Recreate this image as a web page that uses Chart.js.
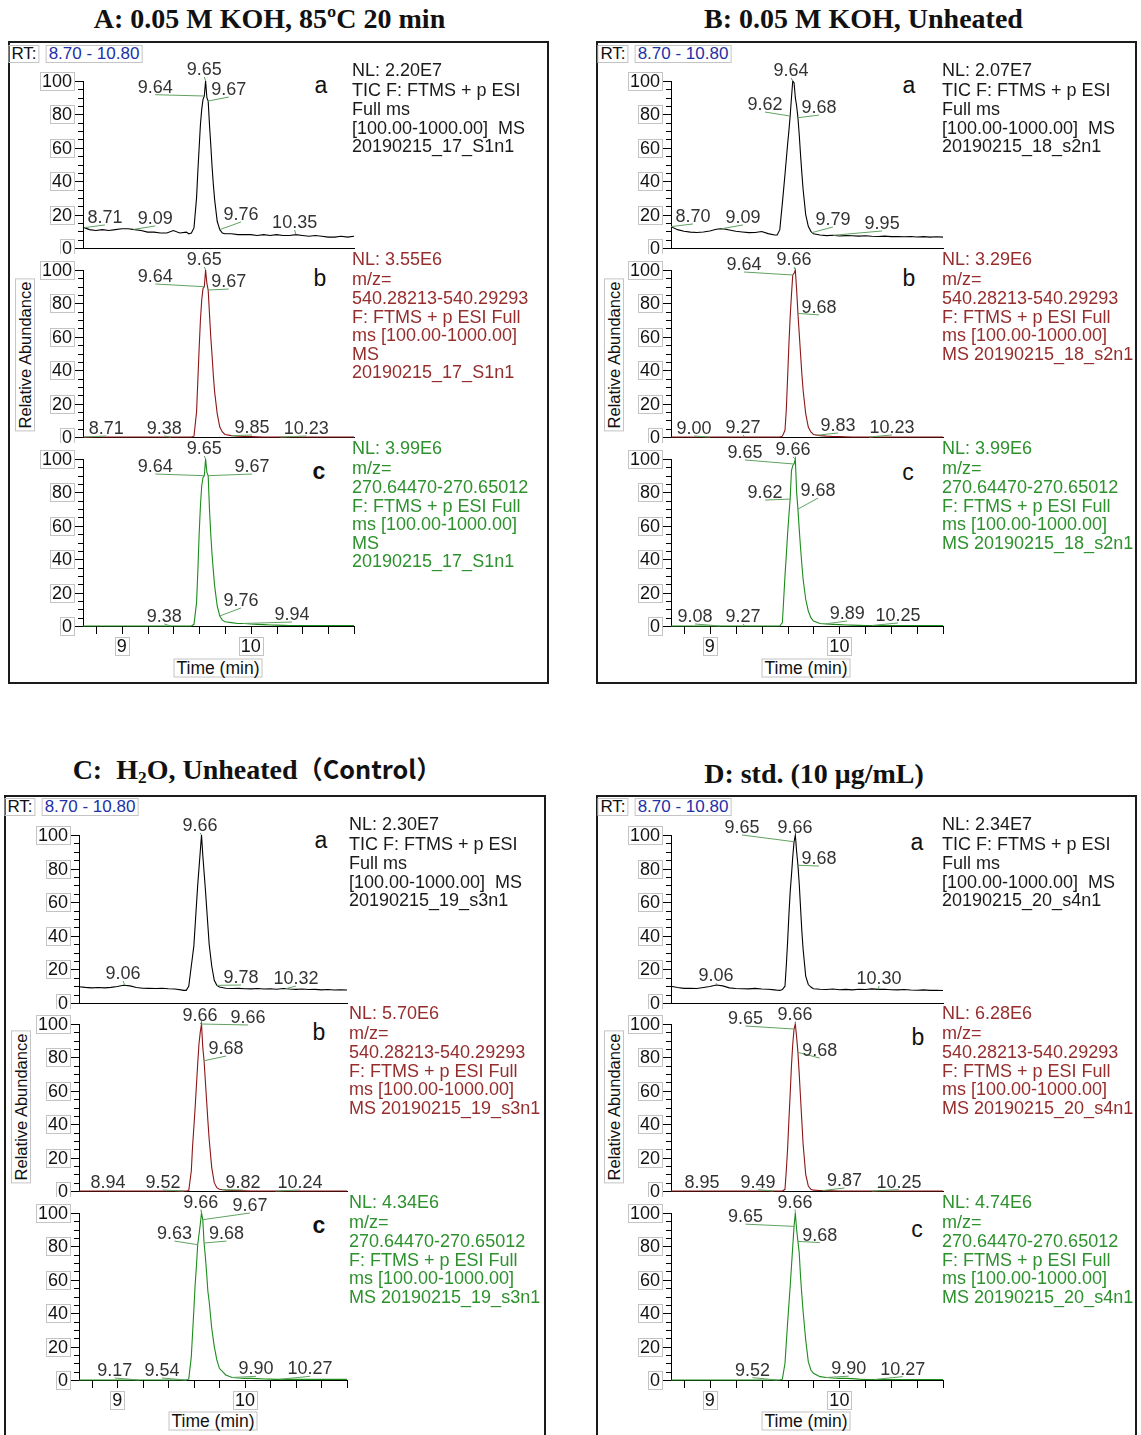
<!DOCTYPE html>
<html lang="en">
<head>
<meta charset="UTF-8" />
<title>Chromatograms A-D</title>
<script src="https://cdn.jsdelivr.net/npm/chart.js@4.4.1/dist/chart.umd.min.js"></script>
<style>
  body { margin: 0; background: #fff; }
  #page { position: relative; width: 1141px; height: 1435px; overflow: hidden; font-family: "Liberation Sans", Arial, sans-serif; }
  .abs { position: absolute; white-space: pre; }
  .frame { position: absolute; border: 2px solid #1b1b1b; box-sizing: border-box; }
  .title { font-family: "Liberation Serif", "Times New Roman", serif; font-weight: bold; transform: translateX(-50%); color: #111; }
  .title sub { font-size: 0.62em; line-height: 0; vertical-align: -0.22em; }
  .title .cjk { font-family: "Noto Sans CJK SC", sans-serif; font-weight: bold; font-size: 0.9em; }
  .boxed { position: absolute; border: 1px solid #c4c4c4; padding: 0 2px; white-space: nowrap; transform: translate(-50%, -50%); }
  canvas { position: absolute; }
</style>
</head>
<body>
<div id="page"></div>
<script>
// retention time grid (min), shared by all traces
const times = [8.70, 8.75, 8.80, 8.85, 8.90, 8.95, 9.00, 9.05, 9.10, 9.15, 9.20, 9.25, 9.30, 9.35, 9.40, 9.45, 9.50,
  9.52, 9.54, 9.56, 9.58, 9.59, 9.60, 9.61, 9.62, 9.63, 9.64, 9.65, 9.66, 9.67, 9.68, 9.69, 9.70, 9.71, 9.72, 9.74, 9.76, 9.78, 9.80,
  9.85, 9.90, 9.95, 10.00, 10.05, 10.10, 10.15, 10.20, 10.25, 10.30, 10.35, 10.40, 10.45, 10.50, 10.55, 10.60, 10.65, 10.70, 10.75, 10.80]

const xTicks = [8.8, 9.0, 9.2, 9.4, 9.6, 9.8, 10.0, 10.2, 10.4, 10.6, 10.8]
const xTickLabels = ['9', '10']
const yTickLabels = ['0', '20', '40', '60', '80', '100']

// relative abundance (%) — a: TIC, b: m/z 540, c: m/z 270
const A_a = [12.5, 11, 10.5, 11, 10.5, 11, 11.5, 11.5, 11, 10.5, 9.5, 9.5, 9, 9, 10.5, 9, 9.5,
  8.5, 9, 12, 30, 46, 60, 74, 83, 89, 91, 100, 90, 88, 74, 62, 49, 38, 29, 16, 11, 9, 8.5,
  8.5, 8, 8, 8, 7.5, 8, 7.5, 8, 7.5, 7.5, 8, 7.5, 7, 7.5, 7, 6.5, 6.5, 7, 6.5, 7]
const A_b = [0, 0, 0, 0, 0, 0, 0, 0, 0, 0, 0, 0, 0, 0, 0, 0, 0,
  0, 0, 0.5, 15, 34, 53, 70, 82, 89, 90, 100, 92, 88, 74, 60, 49, 37, 27, 14, 6, 3, 1.5,
  0.8, 0.5, 0.3, 0.2, 0.1, 0, 0, 0, 0, 0, 0, 0, 0, 0, 0, 0, 0, 0, 0, 0]
const A_c = [0, 0, 0, 0, 0, 0, 0, 0, 0, 0, 0, 0, 0, 0, 0, 0, 0,
  0, 0, 1, 14, 33, 55, 72, 84, 89, 90, 100, 92, 90, 70, 55, 43, 33, 24, 12, 6, 3.5, 2.5,
  2, 1.5, 1.5, 1.2, 1, 0.8, 0.6, 0.5, 0.4, 0.3, 0.3, 0.3, 0.3, 0.3, 0.3, 0.3, 0.3, 0.3, 0.3, 0.3]

const B_a = [12.8, 11, 10, 9.5, 9.3, 9.6, 10.2, 11.2, 11.6, 10.8, 10, 9.6, 9.2, 9.3, 9.9, 8.6, 7.8,
  7.8, 11, 27, 44, 53, 62, 70, 79, 90, 100, 99, 90, 85, 78, 68, 56, 45, 35, 20, 13, 10, 8.5,
  7.8, 7.4, 7.6, 7.2, 7.4, 7.3, 7.1, 7.3, 7, 6.9, 7.1, 6.8, 6.9, 6.7, 6.9, 6.6, 6.8, 6.5, 6.7, 6.5]
const B_b = [0, 0, 0, 0, 0, 0, 0, 0, 0, 0, 0, 0, 0, 0, 0, 0, 0,
  0, 0, 0.5, 4, 16, 35, 55, 72, 85, 97, 98, 100, 88, 74, 62, 50, 38, 28, 14, 6, 3, 1.5,
  0.8, 0.5, 0.3, 0.2, 0.1, 0, 0, 0, 0, 0, 0, 0, 0, 0, 0, 0, 0, 0, 0, 0]
const B_c = [0, 0, 0, 0, 0, 0, 0, 0, 0, 0, 0, 0, 0, 0, 0, 0, 0,
  0, 0, 2, 30, 42, 55, 66, 76, 93, 96, 97, 100, 80, 70, 58, 47, 37, 28, 16, 9, 5, 3,
  1.5, 1.2, 1, 0.8, 0.6, 0.5, 0.4, 0.3, 0.3, 0.3, 0.3, 0.3, 0.3, 0.3, 0.3, 0.3, 0.3, 0.3, 0.3, 0.3]

const C_a = [9.7, 9.3, 9, 9.2, 9, 9.3, 9.8, 10.6, 10.2, 9.2, 8.8, 8.7, 8.6, 8.8, 8.5, 8.3, 7.8,
  7.5, 7.5, 10, 22, 28, 34, 46, 58, 70, 80, 90, 100, 88, 78, 68, 57, 46, 35, 22, 13.5, 10.5, 9.5,
  8.8, 8.6, 8.7, 8.5, 8.4, 8.6, 8.3, 8.5, 8.2, 8.6, 8.3, 8.1, 8.3, 8, 8.1, 7.8, 8, 7.7, 7.9, 7.7]
const C_b = [0, 0, 0, 0, 0, 0, 0, 0, 0, 0, 0, 0, 0, 0, 0, 0, 0,
  0, 0, 0.3, 12, 27, 38, 50, 63, 76, 88, 95, 100, 86, 78, 66, 54, 42, 31, 14, 5, 2, 1,
  0.5, 0.3, 0.2, 0.1, 0, 0, 0, 0, 0, 0, 0, 0, 0, 0, 0, 0, 0, 0, 0, 0]
const C_c = [0, 0, 0, 0, 0, 0, 0, 0, 0, 0, 0, 0, 0, 0, 0, 0, 0,
  0, 0, 0.5, 14, 28, 42, 57, 68, 81, 87, 93, 100, 96, 82, 74, 64, 53, 47, 31, 20, 12, 7,
  3, 1.5, 1.2, 1, 1, 0.8, 0.6, 0.5, 0.4, 0.4, 0.4, 0.4, 0.4, 0.4, 0.4, 0.4, 0.4, 0.4, 0.4, 0.4]

const D_a = [10, 9.2, 8.7, 8.8, 8.6, 9.2, 9.8, 10.7, 10.2, 9, 8.6, 8.5, 8.4, 8.7, 8.3, 8.2, 7.8,
  7.6, 7.5, 8, 10, 22, 36, 52, 66, 76, 87, 96, 100, 90, 82, 71, 57, 43, 32, 16, 11, 9.5, 8.5,
  8.2, 8, 8.3, 7.9, 8.1, 7.8, 8.2, 8, 8.4, 8.1, 8.2, 7.9, 7.8, 8, 7.7, 7.6, 7.8, 7.5, 7.6, 7.4]
const D_b = [0, 0, 0, 0, 0, 0, 0, 0, 0, 0, 0, 0, 0, 0, 0, 0, 0,
  0, 0, 0, 1, 12, 25, 42, 58, 75, 88, 97, 100, 92, 83, 70, 56, 42, 28, 10, 3, 1, 0.5,
  0.3, 0.2, 0.1, 0, 0, 0, 0, 0, 0, 0, 0, 0, 0, 0, 0, 0, 0, 0, 0, 0]
const D_c = [0, 0, 0, 0, 0, 0, 0, 0, 0, 0, 0, 0, 0, 0, 0, 0, 0,
  0, 0, 0.5, 10, 22, 34, 45, 56, 68, 80, 92, 100, 90, 83, 76, 62, 51, 41, 24, 11, 6, 4,
  2, 1.5, 1.2, 1, 1, 0.8, 0.5, 0.3, 0.3, 0.3, 0.3, 0.3, 0.3, 0.3, 0.3, 0.3, 0.3, 0.3, 0.3, 0.3]

// annotated retention times
const A_a_rt = ['8.71', '9.09', '9.64', '9.65', '9.67', '9.76', '10.35']
const A_b_rt = ['8.71', '9.38', '9.64', '9.65', '9.67', '9.85', '10.23']
const A_c_rt = ['9.38', '9.64', '9.65', '9.67', '9.76', '9.94']
const B_a_rt = ['8.70', '9.09', '9.62', '9.64', '9.68', '9.79', '9.95']
const B_b_rt = ['9.00', '9.27', '9.64', '9.66', '9.68', '9.83', '10.23']
const B_c_rt = ['9.08', '9.27', '9.62', '9.65', '9.66', '9.68', '9.89', '10.25']
const C_a_rt = ['9.06', '9.66', '9.78', '10.32']
const C_b_rt = ['8.94', '9.52', '9.66', '9.66', '9.68', '9.82', '10.24']
const C_c_rt = ['9.17', '9.54', '9.63', '9.66', '9.67', '9.68', '9.90', '10.27']
const D_a_rt = ['9.06', '9.65', '9.66', '9.68', '10.30']
const D_b_rt = ['8.95', '9.49', '9.65', '9.66', '9.68', '9.87', '10.25']
const D_c_rt = ['9.52', '9.65', '9.66', '9.68', '9.90', '10.27']

// scan header texts
const A_a_info = ['NL: 2.20E7', 'TIC F: FTMS + p ESI', 'Full ms', '[100.00-1000.00]  MS', '20190215_17_S1n1']
const A_b_info = ['NL: 3.55E6', 'm/z=', '540.28213-540.29293', 'F: FTMS + p ESI Full', 'ms [100.00-1000.00]', 'MS', '20190215_17_S1n1']
const A_c_info = ['NL: 3.99E6', 'm/z=', '270.64470-270.65012', 'F: FTMS + p ESI Full', 'ms [100.00-1000.00]', 'MS', '20190215_17_S1n1']
const B_a_info = ['NL: 2.07E7', 'TIC F: FTMS + p ESI', 'Full ms', '[100.00-1000.00]  MS', '20190215_18_s2n1']
const B_b_info = ['NL: 3.29E6', 'm/z=', '540.28213-540.29293', 'F: FTMS + p ESI Full', 'ms [100.00-1000.00]', 'MS 20190215_18_s2n1']
const B_c_info = ['NL: 3.99E6', 'm/z=', '270.64470-270.65012', 'F: FTMS + p ESI Full', 'ms [100.00-1000.00]', 'MS 20190215_18_s2n1']
const C_a_info = ['NL: 2.30E7', 'TIC F: FTMS + p ESI', 'Full ms', '[100.00-1000.00]  MS', '20190215_19_s3n1']
const C_b_info = ['NL: 5.70E6', 'm/z=', '540.28213-540.29293', 'F: FTMS + p ESI Full', 'ms [100.00-1000.00]', 'MS 20190215_19_s3n1']
const C_c_info = ['NL: 4.34E6', 'm/z=', '270.64470-270.65012', 'F: FTMS + p ESI Full', 'ms [100.00-1000.00]', 'MS 20190215_19_s3n1']
const D_a_info = ['NL: 2.34E7', 'TIC F: FTMS + p ESI', 'Full ms', '[100.00-1000.00]  MS', '20190215_20_s4n1']
const D_b_info = ['NL: 6.28E6', 'm/z=', '540.28213-540.29293', 'F: FTMS + p ESI Full', 'ms [100.00-1000.00]', 'MS 20190215_20_s4n1']
const D_c_info = ['NL: 4.74E6', 'm/z=', '270.64470-270.65012', 'F: FTMS + p ESI Full', 'ms [100.00-1000.00]', 'MS 20190215_20_s4n1']

// where each peak label sits: [time, % abundance of text baseline]
const A_a_pos = [[8.87, 15], [9.26, 14.4], [9.26, 93], [9.64, 103.6], [9.83, 91.6], [9.925, 16.8], [10.34, 12]]
const A_b_pos = [[8.88, 1.8], [9.33, 1.8], [9.26, 92.8], [9.64, 103], [9.83, 89.8], [10.01, 2.4], [10.43, 1.8]]
const A_c_pos = [[9.33, 2.4], [9.26, 92.2], [9.64, 103], [10.01, 92.2], [9.925, 12], [10.32, 3.6]]
const B_a_pos = [[8.87, 15.6], [9.256, 15], [9.426, 82.6], [9.627, 103], [9.843, 80.8], [9.951, 13.8], [10.33, 11.4]]
const B_b_pos = [[8.878, 1.8], [9.256, 2.4], [9.264, 100], [9.65, 103], [9.843, 74.3], [9.99, 3.6], [10.407, 2.4]]
const B_c_pos = [[8.885, 2.4], [9.256, 2.4], [9.426, 76.6], [9.271, 100.6], [9.642, 102.4], [9.835, 77.8], [10.06, 4.2], [10.453, 3]]
const C_a_pos = [[9.045, 14.3], [9.648, 102.4], [9.97, 11.9], [10.40, 11.3]]
const C_b_pos = [[8.927, 1.8], [9.358, 1.8], [9.648, 101.8], [10.024, 100.6], [9.852, 82], [9.985, 1.8], [10.432, 1.8]]
const C_c_pos = [[8.98, 2.4], [9.35, 2.4], [9.448, 84.4], [9.654, 103.2], [10.04, 101.2], [9.856, 84.4], [10.087, 3.4], [10.51, 3.4]]
const D_a_pos = [[9.047, 13], [9.248, 101.2], [9.658, 101.2], [9.843, 82.7], [10.306, 11.3]]
const D_b_pos = [[8.94, 2], [9.372, 2], [9.275, 100], [9.658, 102.4], [9.848, 80.8], [10.04, 3], [10.46, 2]]
const D_c_pos = [[9.329, 2.6], [9.275, 94.5], [9.658, 103.2], [9.848, 83.5], [10.072, 3.5], [10.489, 3.2]]

const panels = {
  A: { title: 'A: 0.05 M KOH, 85ºC 20 min', titleAt: [269.5, 28], frame: [8, 41, 541, 643], rt: [[24, 54], [94, 54]],
    x0: 83, x1: 354, tops: [81, 270, 459], bottoms: [248, 437, 626], infoX: 352,
    letters: [[321, 93, false], [320, 286, false], [319, 479, true]], relAb: [25, 355], time: [218, 668] },
  B: { title: 'B: 0.05 M KOH, Unheated', titleAt: [863.5, 28], frame: [596, 41, 541, 643], rt: [[613, 54], [683, 54]],
    x0: 671, x1: 943, tops: [81, 270, 459], bottoms: [248, 437, 626], infoX: 942,
    letters: [[909, 93, false], [909, 286, false], [908, 480, false]], relAb: [614, 355], time: [806, 668] },
  C: { title: 'C:&nbsp; H<sub>2</sub>O, Unheated<span class="cjk">（Control）</span>', titleAt: [257, 777], frame: [4, 795, 542, 660], rt: [[20, 807], [90, 807]],
    x0: 79, x1: 347, tops: [835, 1024, 1213], bottoms: [1003, 1191, 1380], infoX: 349,
    letters: [[321, 848, false], [319, 1040, false], [319, 1233, true]], relAb: [21, 1107], time: [213, 1421] },
  D: { title: 'D: std. (10 μg/mL)', titleAt: [814, 783], frame: [596, 795, 541, 660], rt: [[613, 807], [683, 807]],
    x0: 671, x1: 943, tops: [835, 1024, 1213], bottoms: [1003, 1191, 1380], infoX: 942,
    letters: [[917, 850, false], [918, 1045, false], [917, 1237, false]], relAb: [614, 1107], time: [806, 1421] },
}

const traceColor = ['#000000', 'rgb(140,22,22)', 'rgb(28,140,28)']
const infoColor = ['#1a1a1a', 'rgb(150,45,45)', 'rgb(45,145,45)']
const SANS = '"Liberation Sans", Arial, sans-serif'

const traces = [
  ['A', 0, A_a, A_a_rt, A_a_pos, A_a_info], ['A', 1, A_b, A_b_rt, A_b_pos, A_b_info], ['A', 2, A_c, A_c_rt, A_c_pos, A_c_info],
  ['B', 0, B_a, B_a_rt, B_a_pos, B_a_info], ['B', 1, B_b, B_b_rt, B_b_pos, B_b_info], ['B', 2, B_c, B_c_rt, B_c_pos, B_c_info],
  ['C', 0, C_a, C_a_rt, C_a_pos, C_a_info], ['C', 1, C_b, C_b_rt, C_b_pos, C_b_info], ['C', 2, C_c, C_c_rt, C_c_pos, C_c_info],
  ['D', 0, D_a, D_a_rt, D_a_pos, D_a_info], ['D', 1, D_b, D_b_rt, D_b_pos, D_b_info], ['D', 2, D_c, D_c_rt, D_c_pos, D_c_info],
]

const page = document.getElementById('page')

function el(cls, html, css) {
  const d = document.createElement('div')
  d.className = cls
  d.innerHTML = html
  d.style.cssText += css
  page.appendChild(d)
  return d
}

// place a text line by its baseline
function textAt(html, x, base, size, css = '', lh = size * 1.15, serif = false) {
  const asc = serif ? 0.891 : 0.905
  const desc = serif ? 0.216 : 0.212
  const off = (lh - (asc + desc) * size) / 2 + asc * size
  return el('abs', html, `left:${x}px;top:${base - off}px;font-size:${size}px;line-height:${lh}px;` + css)
}

function valueAt(vals, t) {
  for (let i = 1; i < times.length; i++) {
    if (times[i] >= t - 1e-9) {
      const f = (t - times[i - 1]) / (times[i] - times[i - 1])
      return vals[i - 1] + (vals[i] - vals[i - 1]) * f
    }
  }
  return vals[vals.length - 1]
}

function chromPlugin(values, rts, pos, bottom) {
  return {
    id: 'chrom',
    afterDatasetsDraw(chart) {
      const { ctx, chartArea: a, scales: { x, y } } = chart
      ctx.save()
      ctx.lineWidth = 1
      ctx.strokeStyle = '#000'
      ctx.beginPath()
      for (let v = 0; v <= 100; v += 5) {
        const py = Math.round(y.getPixelForValue(v)) + 0.5
        ctx.moveTo(a.left - (v % 20 === 0 ? 9 : 5), py)
        ctx.lineTo(a.left, py)
      }
      if (bottom) {
        xTicks.forEach((t) => {
          const px = Math.round(x.getPixelForValue(t)) + 0.5
          ctx.moveTo(px, a.bottom)
          ctx.lineTo(px, a.bottom + 8)
        })
      }
      ctx.stroke()

      ctx.font = '18px ' + SANS
      ctx.textAlign = 'center'
      ctx.textBaseline = 'middle'
      const boxed = (s, cx, cy) => {
        const w = ctx.measureText(s).width
        ctx.strokeStyle = '#c4c4c4'
        ctx.strokeRect(Math.round(cx - w / 2 - 2) + 0.5, Math.round(cy - 9) + 0.5, Math.round(w + 4), 18)
        ctx.fillStyle = '#111'
        ctx.fillText(s, cx, cy + 1)
      }
      yTickLabels.forEach((s) => {
        const w = ctx.measureText(s).width
        boxed(s, a.left - 11 - w / 2, y.getPixelForValue(+s))
      })
      if (bottom) xTickLabels.forEach((s) => boxed(s, x.getPixelForValue(+s), a.bottom + 20))

      // peak labels with leader lines
      ctx.textBaseline = 'alphabetic'
      rts.forEach((s, i) => {
        const t = +s
        const ax = x.getPixelForValue(t)
        const ay = y.getPixelForValue(valueAt(values, t))
        const lx = x.getPixelForValue(pos[i][0])
        const ly = y.getPixelForValue(pos[i][1])
        ctx.strokeStyle = 'rgb(96,162,96)'
        ctx.beginPath()
        ctx.moveTo(ax, ay)
        ctx.lineTo(lx, ly + 2)
        ctx.stroke()
        ctx.fillStyle = '#333'
        ctx.fillText(s, lx, ly)
      })
      ctx.restore()
    },
  }
}

// frames, titles and static texts
Object.values(panels).forEach((p) => {
  const [fx, fy, fw, fh] = p.frame
  el('frame', '', `left:${fx}px;top:${fy}px;width:${fw}px;height:${fh}px;`)
  textAt(p.title, p.titleAt[0], p.titleAt[1], 28, 'font-family:"Liberation Serif","Times New Roman",serif;font-weight:bold;transform:translateX(-50%);color:#111;', 30, true).className = 'abs title'
  el('boxed', 'RT:', `left:${p.rt[0][0]}px;top:${p.rt[0][1]}px;font-size:17px;line-height:16px;color:#111;`)
  el('boxed', '8.70 - 10.80', `left:${p.rt[1][0]}px;top:${p.rt[1][1]}px;font-size:17px;line-height:16px;color:#2230a8;`)
  el('boxed', 'Relative Abundance', `left:${p.relAb[0]}px;top:${p.relAb[1]}px;font-size:16.5px;line-height:18px;color:#111;transform:translate(-50%,-50%) rotate(-90deg);`)
  el('boxed', 'Time (min)', `left:${p.time[0]}px;top:${p.time[1]}px;font-size:17.5px;line-height:17px;color:#111;`)
  p.letters.forEach(([lx, lb, bold], i) => {
    textAt('abc'[i], lx, lb, 23, `transform:translateX(-50%);color:#111;${bold ? 'font-weight:bold;' : ''}`, 26)
  })
})

traces.forEach(([key, row, values, rts, pos, info]) => {
  const p = panels[key]
  const bottom = row === 2
  const L = 70, T = 32, R = 14, B = bottom ? 34 : 6
  const plotW = p.x1 - p.x0
  const plotH = p.bottoms[row] - p.tops[row]
  const cv = document.createElement('canvas')
  cv.width = L + plotW + R
  cv.height = T + plotH + B
  cv.style.left = (p.x0 - L) + 'px'
  cv.style.top = (p.tops[row] - T) + 'px'
  page.appendChild(cv)

  new Chart(cv, {
    type: 'line',
    data: {
      datasets: [{
        data: times.map((t, i) => ({ x: t, y: values[i] })),
        borderColor: traceColor[row],
        borderWidth: 1.1,
        pointRadius: 0,
        tension: 0,
        clip: false,
      }],
    },
    options: {
      responsive: false,
      animation: false,
      devicePixelRatio: 1,
      layout: { padding: { left: 0, top: T, right: R, bottom: 0 } },
      plugins: { legend: { display: false }, tooltip: { enabled: false } },
      scales: {
        x: {
          type: 'linear', min: 8.7, max: 10.8,
          grid: { display: false }, ticks: { display: false },
          border: { color: '#000', width: 1 },
          afterFit: (s) => { s.height = B },
        },
        y: {
          min: 0, max: 100,
          grid: { display: false }, ticks: { display: false },
          border: { color: '#000', width: 1 },
          afterFit: (s) => { s.width = L },
        },
      },
    },
    plugins: [chromPlugin(values, rts, pos, bottom)],
  })

  // scan header at the right of each trace
  const firstBase = p.tops[row] - 11 + 6.5
  info.forEach((line, i) => {
    const base = firstBase + (i === 0 ? 0 : 2 + i * 18.6)
    textAt(line, p.infoX, base, 18, `color:${infoColor[row]};`, 19)
  })
})
</script>
</body>
</html>
